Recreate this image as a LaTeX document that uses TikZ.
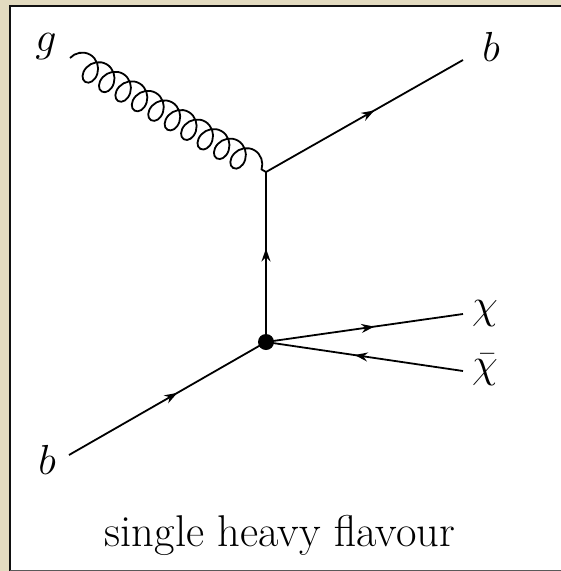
\RequirePackage{fix-cm}
\documentclass[tikz,border=0pt]{standalone}
\usetikzlibrary{decorations.pathmorphing,decorations.markings,arrows.meta}
\definecolor{beige}{HTML}{E3DBC0}
\definecolor{frameline}{HTML}{111111}
\tikzset{
  fermion/.style={line width=1.8pt, postaction={decorate},
    decoration={markings, mark=at position 0.55 with {\arrow{Stealth[length=13pt,width=9pt]}}}},
  gluon/.style={line width=1.8pt, decorate,
    decoration={coil, amplitude=13pt, segment length=19pt, aspect=0.85}},
  lbl/.style={inner sep=0pt, font=\fontsize{42}{50}\selectfont},
}
\begin{document}
\begin{tikzpicture}[x=1pt,y=-1pt]
\useasboundingbox (0,0) rectangle (561,571);
\fill[beige] (0,0) rectangle (561,571);
\fill[white] (10,6) rectangle (561,571);
\draw[frameline, line width=2.5pt] (10,571) -- (10,6) -- (561,6);
\draw[gray!70!black, line width=1.2pt] (10,570.4) -- (561,570.4);
% vertices
\coordinate (v1) at (266,172);
\coordinate (v2) at (266,342);
\coordinate (gin) at (70,58);
\coordinate (bout) at (463,60);
\coordinate (chiout) at (463,314);
\coordinate (chibarin) at (463,371);
\coordinate (bin) at (69,455);
% lines
\draw[gluon] (gin) -- (v1);
\draw[fermion] (v1) -- (bout);
\draw[fermion] (v2) -- (v1);
\draw[fermion] (v2) -- (chiout);
\draw[fermion] (chibarin) -- (v2);
\draw[fermion] (bin) -- (v2);
\fill (v2) circle (8pt);
% labels
\node[lbl] (lg) at (46,47) {$g$};
\node[lbl] (lb1) at (491,47) {$b$};
\node[lbl] (lb2) at (47,460) {$b$};
\node[lbl, anchor=base] (lchi) at (485,318) {\smash{$\chi$}};
\node[lbl, anchor=base] (lchib) at (485,377) {$\bar{\chi}$};
\node[inner sep=0pt, font=\fontsize{44.5}{52}\selectfont] (title) at (280,535) {single heavy flavour};
\end{tikzpicture}
\end{document}
